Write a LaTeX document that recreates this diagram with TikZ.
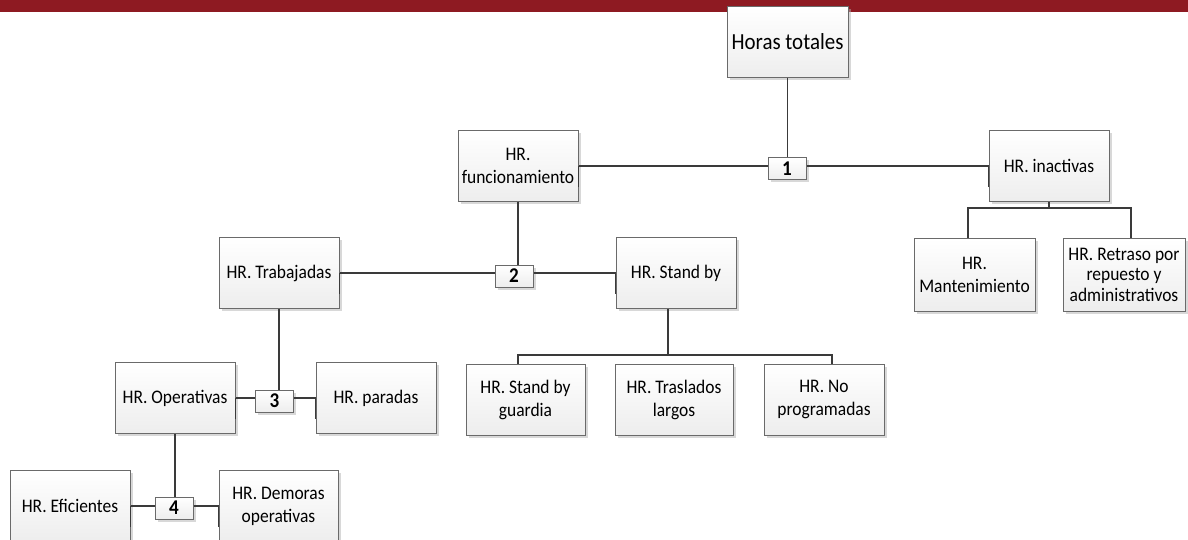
\documentclass[tikz,border=0pt]{standalone}
\usepackage{fontspec}
\setmainfont{Carlito}[FakeStretch=0.91]
\usetikzlibrary{shadows}
\definecolor{band}{HTML}{8E1A22}
\definecolor{edge}{HTML}{6A6A6A}
\definecolor{wire}{HTML}{3A3A3A}
\tikzset{
 box/.style={draw=edge, line width=1pt, top color=white, bottom color=black!7,
   drop shadow={shadow xshift=2.5pt, shadow yshift=-2.5pt, fill=black!30, opacity=0.5},
   minimum width=120pt, minimum height=71pt, inner sep=0pt, align=center,
   font=\fontsize{19.2}{23}\selectfont},
 numbox/.style={box, minimum width=38pt, minimum height=22pt, font=\fontsize{21}{22}\selectfont\bfseries},
 wire/.style={draw=wire, line width=1.8pt},
 tickmark/.style={draw=wire, line width=1.8pt},
}
\begin{document}
\begin{tikzpicture}[x=1pt,y=-1pt]
\clip[use as bounding box] (0,0) rectangle (1188,540);
\fill[band] (0,0) rectangle (1188,12);
% nodes
\node[box, minimum width=121pt, font=\fontsize{23}{26}\selectfont] (tot) at (787.5,42) {Horas totales};
\node[box] (fun) at (518,166) {HR.\\funcionamiento};
\node[numbox] (n1) at (787,169) {1};
\node[box] (ina) at (1049,166) {HR. inactivas};
\node[box, minimum width=121pt, minimum height=73pt] (man) at (974.5,274.5) {HR.\\Mantenimiento};
\node[box, minimum width=122pt, minimum height=73pt, font=\fontsize{19.2}{20.5}\selectfont] (ret) at (1124,274.5) {HR. Retraso por\\repuesto y\\administrativos};
\node[box] (tra) at (279,273) {HR. Trabajadas};
\node[numbox] (n2) at (514,276) {2};
\node[box] (sby) at (676,273) {HR. Stand by};
\node[box] (ope) at (175,398) {HR. Operativas};
\node[numbox] (n3) at (274.5,401) {3};
\node[box] (par) at (376,398) {HR. paradas};
\node[box, minimum width=119pt] (sbg) at (525.5,399.5) {HR. Stand by\\guardia};
\node[box, minimum width=118pt] (tla) at (674,399.5) {HR. Traslados\\largos};
\node[box] (nop) at (824,399.5) {HR. No\\programadas};
\node[box] (efi) at (70,506) {HR. Eficientes};
\node[numbox] (n4) at (174,508) {4};
\node[box, minimum width=119pt] (dem) at (278.5,506) {HR. Demoras\\operativas};
% connectors
\draw[wire] (tot.south) -- (tot.south |- n1.north);
\draw[wire] (fun.east) -- (fun.east -| n1.west);
\draw[wire] (ina.west -| n1.east) -- (ina.west);
\draw[wire] (fun.south) -- (fun.south |- n2.north);
\draw[wire] (tra.east) -- (tra.east -| n2.west);
\draw[wire] (sby.west -| n2.east) -- (sby.west);
\draw[wire] (tra.south) -- (tra.south |- n3.north);
\draw[wire] (ope.east) -- (ope.east -| n3.west);
\draw[wire] (par.west -| n3.east) -- (par.west);
\draw[wire] (ope.south) -- (ope.south |- n4.north);
\draw[wire] (efi.east) -- (efi.east -| n4.west);
\draw[wire] (dem.west -| n4.east) -- (dem.west);
% buses
\draw[wire] ([xshift=-8pt]sby.south) -- ++(0,46) coordinate (b2);
\draw[wire] ([xshift=-7.5pt]sbg.north) |- (b2) -| ([xshift=8pt]nop.north);
\draw[wire] (ina.south) -- ++(0,6) coordinate (b1);
\draw[wire] ([xshift=-6.5pt]man.north) |- (b1) -| ([xshift=7pt]ret.north);
% junction marks on box edges
\foreach \a in {fun.east, ina.west, tra.east, sby.west, ope.east, par.west, efi.east, dem.west}
  \draw[tickmark] (\a) -- ++(0,21);
\end{tikzpicture}
\end{document}
